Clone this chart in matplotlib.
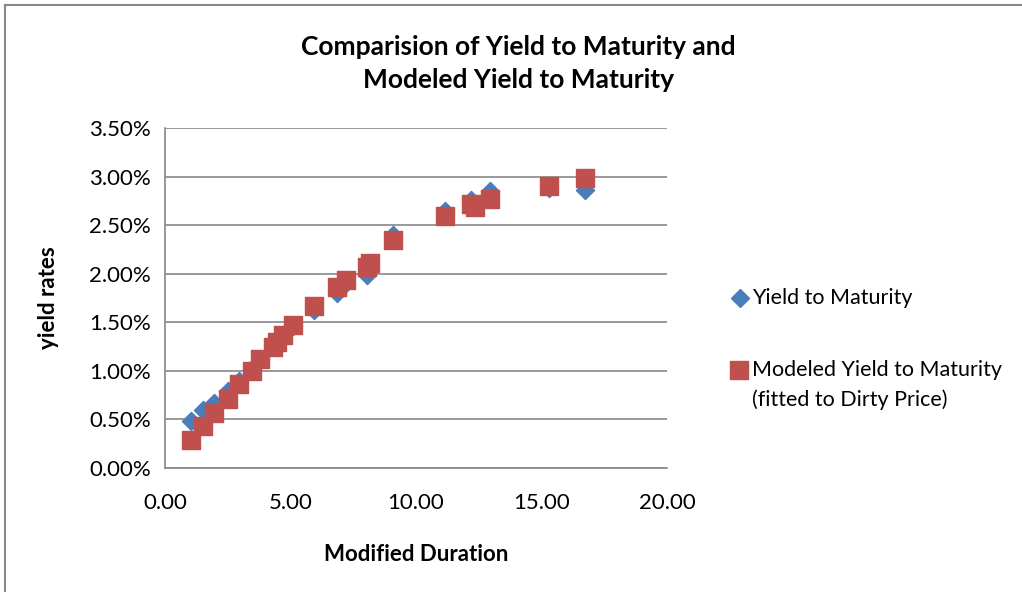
import matplotlib
matplotlib.use("Agg")
import matplotlib.pyplot as plt
from matplotlib.lines import Line2D
from matplotlib.ticker import FuncFormatter

plt.rcParams["font.family"] = ["Lato", "DejaVu Sans"]

# modified duration (same bonds for both series)
duration = [1.05, 1.5, 1.95, 2.5, 2.95, 3.45, 3.8, 4.3, 4.45, 4.7, 5.1, 5.95,
            6.85, 7.2, 8.05, 8.15, 9.1, 11.15, 12.2, 12.35, 12.95, 15.3, 16.75]
# yields in %
ytm = [0.48, 0.60, 0.67, 0.79, 0.90, 1.02, 1.12, 1.27, 1.32, 1.37, 1.46, 1.63,
       1.80, 1.90, 1.99, 2.07, 2.40, 2.65, 2.76, 2.70, 2.85, 2.88, 2.86]
modeled = [0.29, 0.43, 0.57, 0.71, 0.86, 1.00, 1.12, 1.25, 1.30, 1.37, 1.47, 1.67,
           1.86, 1.94, 2.07, 2.11, 2.35, 2.59, 2.72, 2.69, 2.77, 2.90, 2.99]

BLUE = "#4a7ebb"
RED = "#c0504d"

fig = plt.figure(figsize=(10.22, 5.92), dpi=100)
ax = fig.add_axes([0.1614, 0.2095, 0.4912, 0.5743])

ax.scatter(duration, ytm, marker="D", s=85, color=BLUE, zorder=3)
ax.scatter(duration, modeled, marker="s", s=170, color=RED, zorder=4)

ax.set_xlim(0, 20)
ax.set_ylim(0, 3.5)
ax.set_xticks([0, 5, 10, 15, 20])
ax.set_yticks([0, 0.5, 1.0, 1.5, 2.0, 2.5, 3.0, 3.5])
ax.xaxis.set_major_formatter(FuncFormatter(lambda v, p: "%.2f" % v))
ax.yaxis.set_major_formatter(FuncFormatter(lambda v, p: "%.2f%%" % v))
ax.tick_params(labelsize=16, length=0)
ax.tick_params(axis="x", pad=18)
ax.tick_params(axis="y", pad=10)
ax.grid(axis="y", color="#878787", lw=1.2)
ax.set_axisbelow(True)
for s in ["top", "right"]:
    ax.spines[s].set_visible(False)
for s in ["left", "bottom"]:
    ax.spines[s].set_color("#878787")
    ax.spines[s].set_linewidth(1.2)

ax.set_xlabel("Modified Duration", fontsize=16, fontweight="bold", labelpad=22)
ax.set_ylabel("yield rates", fontsize=16, fontweight="bold", labelpad=22)
fig.text(0.507, 0.893, "Comparision of Yield to Maturity and\nModeled Yield to Maturity",
         ha="center", va="center", fontsize=19, fontweight="bold", linespacing=1.45)

# legend drawn by hand so the square sits on the first text line, like the original
def fy(py):
    return 1 - py / 592.0

fig.add_artist(Line2D([740 / 1022.0], [fy(298)], marker="D", ls="", color=BLUE, markersize=9))
fig.text(752 / 1022.0, fy(298), "Yield to Maturity", fontsize=15.5, va="center")
fig.add_artist(Line2D([739 / 1022.0], [fy(370)], marker="s", ls="", color=RED, markersize=13))
fig.text(752 / 1022.0, fy(370), "Modeled Yield to Maturity", fontsize=15.5, va="center")
fig.text(752 / 1022.0, fy(400), "(fitted to Dirty Price)", fontsize=15.5, va="center")

# outer chart frame (left and top edges visible)
fig.add_artist(Line2D([0.005, 0.005], [0, 0.992], color="#878787", lw=1.5))
fig.add_artist(Line2D([0.005, 1.0], [0.992, 0.992], color="#878787", lw=1.5))

fig.savefig("out.png", dpi=100)
